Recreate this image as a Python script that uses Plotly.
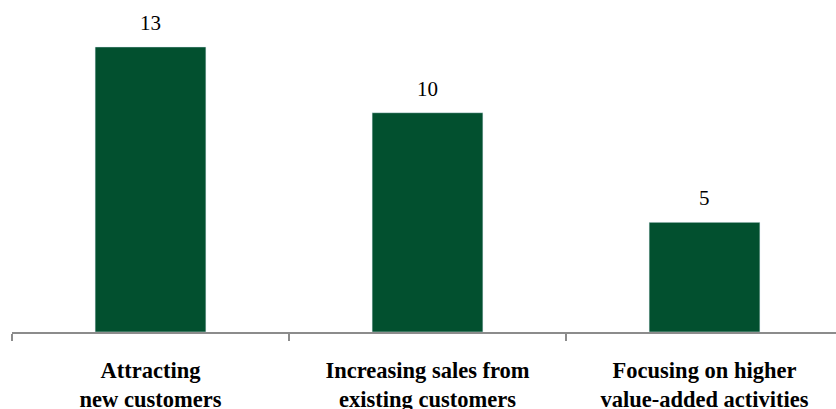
import plotly.graph_objects as go

categories = ["Attracting<br>new customers", "Increasing sales from<br>existing customers", "Focusing on higher<br>value-added activities"]
values = [13, 10, 5]

bar_color = "#02502F"
serif = "Liberation Serif"

fig = go.Figure()
fig.add_trace(go.Bar(x=categories, y=values, marker_color=bar_color, width=0.4))

for c, v in zip(categories, values):
    fig.add_annotation(x=c, y=v, text=str(v), showarrow=False, yanchor="bottom", yshift=10,
                       font=dict(family=serif, size=21, color="#000000"))

fig.update_layout(
    width=836, height=409,
    margin=dict(l=12, r=0, t=25, b=77),
    paper_bgcolor="white", plot_bgcolor="white",
    showlegend=False,
    bargap=0.6,
    font=dict(family=serif),
)
fig.update_xaxes(
    range=[-0.5, 2.4747],
    automargin=False,
    showline=True, linecolor="#8c8c8c", linewidth=1.5,
    ticks="outside", tickson="boundaries", ticklen=7, tickcolor="#8c8c8c", tickwidth=1.5,
    tickfont=dict(family=serif, size=22.5, color="#000000"),
    tickvals=categories,
    ticktext=["<b>" + c.replace("<br>", "</b><br><b>") + "</b>" for c in categories],
    ticklabelstandoff=17,
    showgrid=False,
)
fig.update_yaxes(range=[0, 14], visible=False, showgrid=False)

fig.write_html("out.html")
